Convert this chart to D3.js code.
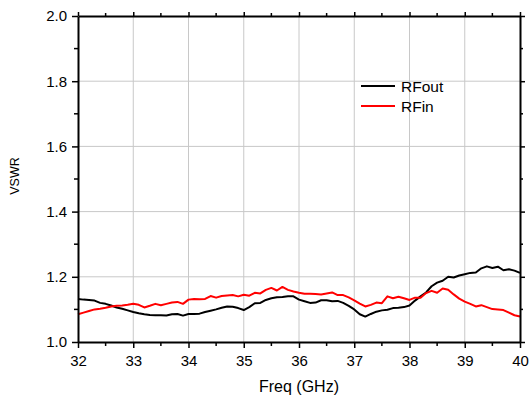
<!DOCTYPE html>
<html><head><meta charset="utf-8">
<script src="https://cdn.jsdelivr.net/npm/d3@7"></script>
<style>body{margin:0;background:#fff}svg{display:block}text{font-family:"Liberation Sans",Arial,sans-serif}</style>
</head><body><svg id="c" width="529" height="396"></svg>
<script>
const freq = d3.range(0, 81).map(i => +(32 + i * 0.1).toFixed(1));
const rfout = [1.132,1.130,1.129,1.127,1.120,1.117,1.112,1.106,1.102,1.097,
1.092,1.088,1.085,1.083,1.082,1.082,1.081,1.085,1.086,1.081,
1.086,1.086,1.087,1.092,1.096,1.100,1.105,1.109,1.108,1.104,
1.098,1.107,1.119,1.120,1.129,1.134,1.137,1.138,1.140,1.140,
1.130,1.125,1.120,1.121,1.128,1.128,1.125,1.126,1.120,1.111,
1.100,1.085,1.078,1.086,1.093,1.097,1.099,1.104,1.105,1.107,
1.112,1.127,1.140,1.152,1.171,1.182,1.188,1.200,1.198,1.204,
1.208,1.212,1.213,1.226,1.232,1.227,1.231,1.220,1.223,1.219,1.212];
const rfin = [1.085,1.090,1.095,1.100,1.102,1.105,1.109,1.111,1.112,1.114,
1.117,1.114,1.106,1.111,1.117,1.113,1.117,1.121,1.123,1.117,
1.130,1.132,1.131,1.132,1.141,1.136,1.141,1.143,1.144,1.140,
1.145,1.142,1.151,1.149,1.160,1.166,1.158,1.169,1.160,1.155,
1.151,1.148,1.148,1.147,1.146,1.149,1.152,1.144,1.144,1.137,
1.128,1.118,1.109,1.114,1.121,1.119,1.140,1.134,1.139,1.134,
1.129,1.136,1.136,1.150,1.157,1.151,1.164,1.160,1.146,1.133,
1.124,1.117,1.109,1.113,1.107,1.101,1.100,1.098,1.090,1.082,1.078];
const xTicks = [32,33,34,35,36,37,38,39,40];
const yTicks = [1.0,1.2,1.4,1.6,1.8,2.0];
const seriesNames = ["RFout","RFin"];
const seriesColors = ["#000000","#ff0000"];

const W=529,H=396,m={l:78,r:9,t:16,b:54};
const svg=d3.select("#c");
const x=d3.scaleLinear().domain([32,40]).range([m.l,W-m.r]);
const y=d3.scaleLinear().domain([1,2]).range([H-m.b,m.t]);
const xMinor=d3.range(32,40.01,0.5);
const yMinor=d3.range(1,2.001,0.1);

// grid
const g=svg.append("g");
g.selectAll(".vx").data(xTicks.slice(1,-1)).join("line")
 .attr("x1",d=>x(d)).attr("x2",d=>x(d)).attr("y1",y(1)).attr("y2",y(2))
 .attr("stroke","#c8c8c8").attr("stroke-width",1);
g.selectAll(".hy").data(yTicks.slice(1,-1)).join("line")
 .attr("y1",d=>y(d)).attr("y2",d=>y(d)).attr("x1",x(32)).attr("x2",x(40))
 .attr("stroke","#c8c8c8").attr("stroke-width",1);

// lines
const line=d3.line().x((d,i)=>x(freq[i])).y(d=>y(d));
[rfout,rfin].forEach((s,k)=>{
  svg.append("path").datum(s).attr("d",line).attr("fill","none")
   .attr("stroke",seriesColors[k]).attr("stroke-width",2).attr("stroke-linejoin","round");
});

// axes
function styleAxis(sel){sel.select(".domain").attr("stroke-width",2);sel.selectAll(".tick line").attr("stroke-width",1.5);}
const fmt=d3.format(".1f");
const ax=svg.append("g").attr("transform",`translate(0,${y(1)})`)
 .call(d3.axisBottom(x).tickValues(xTicks).tickSize(6).tickSizeOuter(0).tickPadding(7).tickFormat(d3.format("d")));
ax.selectAll("text").attr("font-size",15).attr("fill","#000").attr("font-family","Liberation Sans, Arial");
styleAxis(ax);
svg.append("g").attr("transform",`translate(0,${y(1)})`).selectAll("line").data(xMinor.filter(v=>v%1!==0)).join("line")
 .attr("x1",d=>x(d)).attr("x2",d=>x(d)).attr("y1",0).attr("y2",4).attr("stroke","#000").attr("stroke-width",1.5);

const ay=svg.append("g").attr("transform",`translate(${x(32)},0)`)
 .call(d3.axisLeft(y).tickValues(yTicks).tickSize(6).tickSizeOuter(0).tickPadding(5).tickFormat(fmt));
ay.selectAll("text").attr("font-size",15).attr("fill","#000").attr("font-family","Liberation Sans, Arial");
styleAxis(ay);
svg.append("g").attr("transform",`translate(${x(32)},0)`).selectAll("line").data(yMinor.filter((v,i)=>i%2===1)).join("line")
 .attr("y1",d=>y(d)).attr("y2",d=>y(d)).attr("x1",0).attr("x2",-4).attr("stroke","#000").attr("stroke-width",1.5);

const at=svg.append("g").attr("transform",`translate(0,${y(2)})`)
 .call(d3.axisTop(x).tickValues(xTicks).tickSize(4).tickSizeOuter(0).tickFormat(""));
styleAxis(at);
svg.append("g").attr("transform",`translate(0,${y(2)})`).selectAll("line").data(xMinor.filter(v=>v%1!==0)).join("line")
 .attr("x1",d=>x(d)).attr("x2",d=>x(d)).attr("y1",0).attr("y2",-3).attr("stroke","#000").attr("stroke-width",1.5);

const ar=svg.append("g").attr("transform",`translate(${x(40)},0)`)
 .call(d3.axisRight(y).tickValues(yTicks).tickSize(5).tickSizeOuter(0).tickFormat(""));
styleAxis(ar);
svg.append("g").attr("transform",`translate(${x(40)},0)`).selectAll("line").data(yMinor.filter((v,i)=>i%2===1)).join("line")
 .attr("y1",d=>y(d)).attr("y2",d=>y(d)).attr("x1",0).attr("x2",3).attr("stroke","#000").attr("stroke-width",1.5);

// labels
svg.append("text").attr("x",(x(32)+x(40))/2).attr("y",392).attr("text-anchor","middle")
 .attr("font-size",16).text("Freq (GHz)");
svg.append("text").attr("transform",`translate(19,176) rotate(-90)`).attr("text-anchor","middle")
 .attr("font-size",12.5).text("VSWR");

// legend
seriesNames.forEach((n,k)=>{
  const ly=86+k*20;
  svg.append("line").attr("x1",361).attr("x2",395).attr("y1",ly).attr("y2",ly)
   .attr("stroke",seriesColors[k]).attr("stroke-width",2);
  svg.append("text").attr("x",401).attr("y",ly+5.5).attr("font-size",15.5).text(n);
});
</script></body></html>
